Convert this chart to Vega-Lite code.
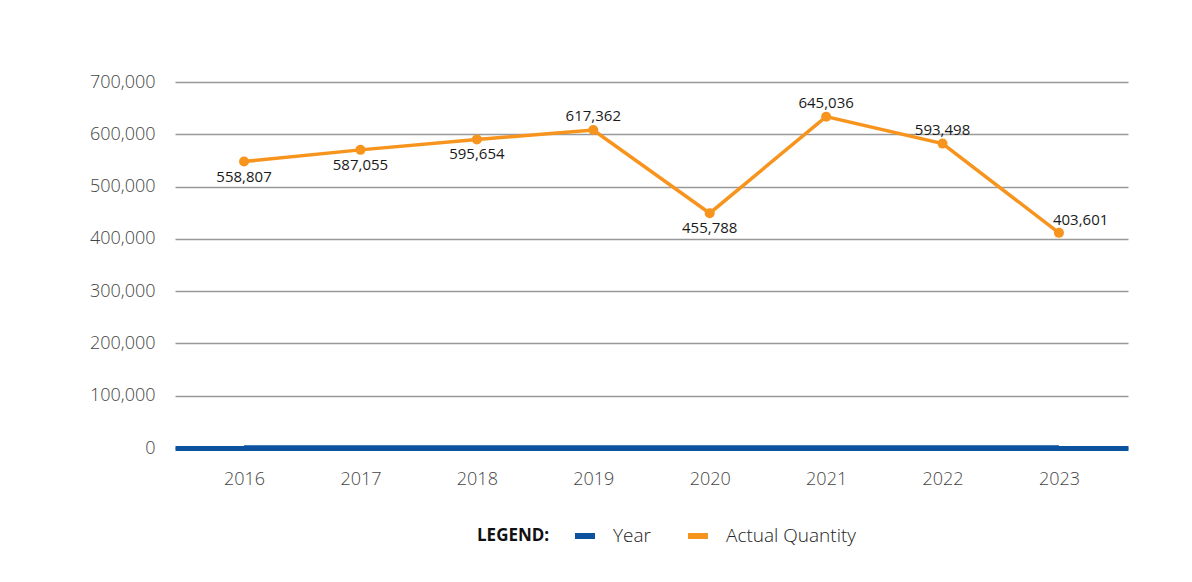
{
  "$schema": "https://vega.github.io/schema/vega-lite/v6.json",
  "width": 953,
  "height": 366,
  "autosize": {"type": "none"},
  "padding": {"left": 175, "top": 82, "right": 64, "bottom": 134},
  "background": "white",
  "config": {"view": {"stroke": null}},
  "data": {
    "values": [
      {"year": "2016", "series": "Actual Quantity", "value": 547800, "label": "558,807", "place": "below"},
      {"year": "2017", "series": "Actual Quantity", "value": 570200, "label": "587,055", "place": "below"},
      {"year": "2018", "series": "Actual Quantity", "value": 590200, "label": "595,654", "place": "below"},
      {"year": "2019", "series": "Actual Quantity", "value": 608200, "label": "617,362", "place": "above"},
      {"year": "2020", "series": "Actual Quantity", "value": 449100, "label": "455,788", "place": "below"},
      {"year": "2021", "series": "Actual Quantity", "value": 633700, "label": "645,036", "place": "above"},
      {"year": "2022", "series": "Actual Quantity", "value": 582200, "label": "593,498", "place": "above"},
      {"year": "2023", "series": "Actual Quantity", "value": 411500, "label": "403,601", "place": "aboveright"},
      {"year": "2016", "series": "Year", "value": 2016},
      {"year": "2017", "series": "Year", "value": 2017},
      {"year": "2018", "series": "Year", "value": 2018},
      {"year": "2019", "series": "Year", "value": 2019},
      {"year": "2020", "series": "Year", "value": 2020},
      {"year": "2021", "series": "Year", "value": 2021},
      {"year": "2022", "series": "Year", "value": 2022},
      {"year": "2023", "series": "Year", "value": 2023}
    ]
  },
  "encoding": {
    "x": {
      "field": "year", "type": "ordinal",
      "scale": {"type": "point", "padding": 0.593},
      "axis": {
        "title": null, "labelAngle": 0, "ticks": false,
        "domainColor": "#0b539f", "domainWidth": 5,
        "labelPadding": 22, "labelFontSize": 18, "labelColor": "#444",
        "labelFont": "Open Sans", "labelFontWeight": 300
      }
    },
    "y": {
      "field": "value", "type": "quantitative",
      "scale": {"domain": [0, 700000], "nice": false},
      "axis": {
        "title": null, "values": [0,100000,200000,300000,400000,500000,600000,700000],
        "format": ",d", "domain": false, "ticks": false, "labelOverlap": false,
        "gridColor": "#999", "gridWidth": 1.3,
        "labelPadding": 20, "labelFontSize": 18, "labelColor": "#444",
        "labelFont": "Open Sans", "labelFontWeight": 300
      }
    }
  },
  "layer": [
    {
      "mark": {"type": "line", "strokeWidth": 3.5},
      "encoding": {
        "color": {
          "field": "series", "type": "nominal",
          "scale": {"domain": ["Year", "Actual Quantity"], "range": ["#0b539f", "#f7941d"]},
          "legend": {
            "orient": "none", "legendX": 302, "legendY": 441,
            "direction": "horizontal",
            "title": "LEGEND:", "titleOrient": "left",
            "titleFont": "Open Sans", "titleFontSize": 17, "titleFontWeight": "bold", "titleColor": "#111",
            "titlePadding": 22, "titleBaseline": "middle",
            "symbolType": "stroke", "symbolSize": 400, "symbolStrokeWidth": 6,
            "labelFont": "Open Sans", "labelFontSize": 19, "labelFontWeight": 300, "labelColor": "#222",
            "labelOffset": 15, "columnPadding": 25
          }
        }
      }
    },
    {
      "transform": [{"filter": "datum.series === 'Actual Quantity'"}],
      "mark": {"type": "point", "filled": true, "size": 100, "opacity": 1, "color": "#f7941d"}
    },
    {
      "transform": [{"filter": "datum.place === 'below'"}],
      "mark": {"type": "text", "dy": 15, "fontSize": 15, "font": "Open Sans", "fontWeight": 500, "color": "#1a1a1a", "baseline": "middle"},
      "encoding": {"text": {"field": "label"}}
    },
    {
      "transform": [{"filter": "datum.place === 'above'"}],
      "mark": {"type": "text", "dy": -14, "fontSize": 15, "font": "Open Sans", "fontWeight": 500, "color": "#1a1a1a", "baseline": "middle"},
      "encoding": {"text": {"field": "label"}}
    },
    {
      "transform": [{"filter": "datum.place === 'aboveright'"}],
      "mark": {"type": "text", "dy": -13, "dx": -6, "align": "left", "fontSize": 15, "font": "Open Sans", "fontWeight": 500, "color": "#1a1a1a", "baseline": "middle"},
      "encoding": {"text": {"field": "label"}}
    }
  ]
}
